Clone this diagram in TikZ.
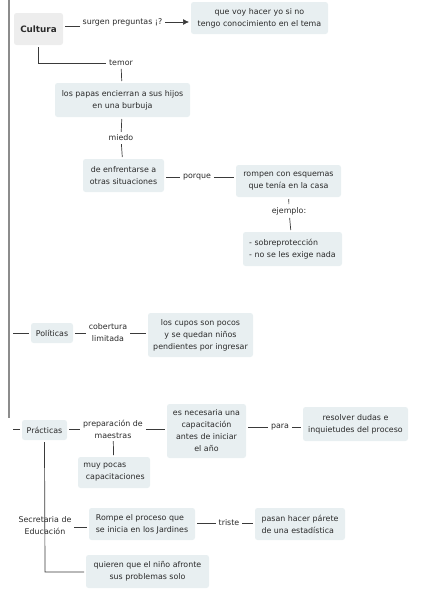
\documentclass[tikz,border=0pt]{standalone}
\usepackage{fontspec}
\setmainfont{DejaVu Sans}
\usetikzlibrary{arrows.meta}
\definecolor{boxfill}{HTML}{E8EFF1}
\definecolor{rootfill}{HTML}{EDEDED}
\definecolor{linkcol}{HTML}{3A3A3A}
\definecolor{railcol}{HTML}{8C8C8C}
\definecolor{inkcol}{HTML}{2A2A2A}
\newcommand\mapfont{\fontsize{7.9}{12}\selectfont}
\tikzset{
  box/.style={fill=boxfill, rounded corners=2.5pt, align=center, font=\mapfont,
              inner sep=2pt, outer sep=2pt, text=inkcol},
  leftbox/.style={box, align=left},
  lbl/.style={font=\mapfont, align=center, inner sep=1pt, outer sep=2pt, text=inkcol},
  link/.style={draw=linkcol, line width=0.7pt},
  rail/.style={draw=railcol, line width=1.4pt},
}
\begin{document}
\begin{tikzpicture}[x=1pt,y=-1pt]
\useasboundingbox (0,0) rectangle (424,589);

% rail on the left
\coordinate (railtop) at (9,0);
\coordinate (railend) at (9,418);
\coordinate (polin) at (13,333);
\coordinate (pracin) at (13,429);
\coordinate (corner) at (45,572);

% concepts
\node[box, fill=rootfill, minimum width=49pt, minimum height=32pt, font=\fontsize{8.8}{12}\selectfont\bfseries] (cultura) at (38.5,29) {Cultura};
\node[box, minimum width=137pt, minimum height=32pt] (q1) at (259.5,18) {que voy hacer yo si no\\tengo conocimiento en el tema};
\node[box, minimum width=135pt, minimum height=34pt] (papas) at (122.5,100) {los papas encierran a sus hijos\\en una burbuja};
\node[box, minimum width=81pt, minimum height=33pt] (enfrentar) at (123.5,175.5) {de enfrentarse a\\otras situaciones};
\node[box, minimum width=105pt, minimum height=32pt] (rompen) at (288.5,181) {rompen con esquemas\\que tenía en la casa};
\node[leftbox, minimum width=99pt, minimum height=34pt] (sobre) at (292.5,249) {- sobreprotección\\- no se les exige nada};
\node[box, minimum width=42pt, minimum height=20pt] (politicas) at (52,333) {Políticas};
\node[box, minimum width=105pt, minimum height=44pt] (cupos) at (200.5,335) {los cupos son pocos\\y se quedan niños\\pendientes por ingresar};
\node[box, minimum width=45pt, minimum height=20pt] (practicas) at (44.5,430) {Prácticas};
\node[box, minimum width=79pt, minimum height=54pt] (necesaria) at (206.5,431) {es necesaria una\\capacitación\\antes de iniciar\\el año};
\node[box, minimum width=105pt, minimum height=34pt] (resolver) at (355.5,424) {resolver dudas e\\inquietudes del proceso};
\node[leftbox, minimum width=72pt, minimum height=31pt] (pocas) at (114,472.5) {muy pocas\\\ capacitaciones};
\node[lbl] (secretaria) at (45,526) {Secretaria de\\Educación};
\node[leftbox, minimum width=106pt, minimum height=32pt] (rompe) at (142,524) {Rompe el proceso que\\se inicia en los Jardines};
\node[leftbox, minimum width=90pt, minimum height=32pt] (pasan) at (300,524) {pasan hacer párete\\de una estadística};
\node[box, minimum width=123pt, minimum height=33pt] (quieren) at (147.5,571.5) {quieren que el niño afronte\\sus problemas solo};

% linking phrases
\node[lbl] (surgen) at (122.5,22) {surgen preguntas ¡?};
\node[lbl] (temor) at (121,63) {temor};
\node[lbl] (miedo) at (121,138) {miedo};
\node[lbl] (porque) at (197,177) {porque};
\node[lbl] (ejemplo) at (289,211) {ejemplo:};
\node[lbl] (cobertura) at (108,333) {cobertura\\limitada};
\node[lbl] (preparacion) at (113,429) {preparación de\\maestras};
\node[lbl] (para) at (280,427) {para};
\node[lbl] (triste) at (229,523) {triste};

% connectors
\draw[rail] (railtop) -- (railend);
\draw[link, transform canvas={yshift=-4pt}] (cultura.east |- surgen.west) -- (surgen.west);
\draw[link, -{Latex[length=6pt,width=6pt]}] (surgen.east) -- (q1.west |- surgen.east);
\draw[link] (cultura.south) |- (temor.west);
\draw[link] (temor) -- (papas);
\draw[link] (papas) -- (miedo);
\draw[link] (miedo) -- (enfrentar);
\draw[link] (enfrentar.east |- porque.west) -- (porque.west);
\draw[link] (porque.east) -- (rompen.west |- porque.east);
\draw[link] (rompen) -- (ejemplo);
\draw[link] (ejemplo) -- (sobre);
\draw[link] (polin) -- (politicas.west);
\draw[link] (politicas) -- (cobertura);
\draw[link] (cobertura) -- (cupos.west |- cobertura.east);
\draw[link] (pracin) -- (practicas.west |- pracin);
\draw[link] (practicas.east |- preparacion.west) -- (preparacion.west);
\draw[link] (preparacion.east) -- (necesaria.west |- preparacion.east);
\draw[link] (necesaria.east |- para.west) -- (para.west);
\draw[link] (para.east) -- (resolver.west |- para.east);
\draw[link] (preparacion) -- (pocas);
\draw[link] (practicas.south) -- (corner) -- (quieren.west |- corner);
\draw[link, transform canvas={yshift=-1pt}] (secretaria.east) -- (rompe.west |- secretaria.east);
\draw[link] (rompe.east |- triste.west) -- (triste.west);
\draw[link] (triste.east) -- (pasan.west |- triste.east);
\end{tikzpicture}
\end{document}
